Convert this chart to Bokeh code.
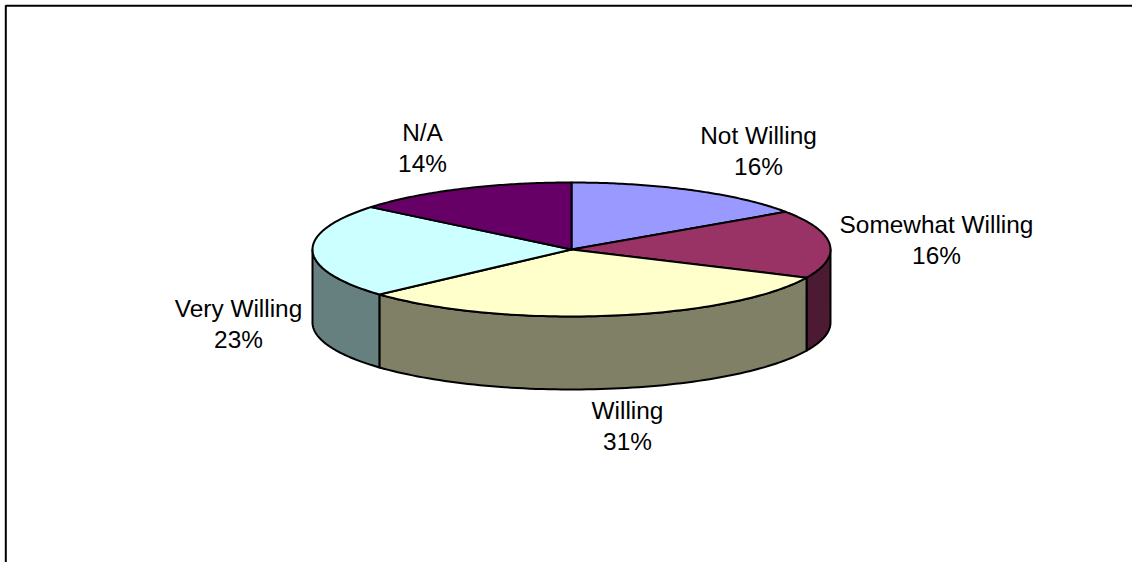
import numpy as np
from bokeh.plotting import figure, ColumnDataSource
from bokeh.models import Range1d, BoxAnnotation
from bokeh.core.properties import value
from bokeh.embed import file_html
from bokeh.resources import INLINE

categories = ["Not Willing", "Somewhat Willing", "Willing", "Very Willing", "N/A"]
shares = [15.5, 16.4, 31.4, 22.6, 14.1]
top_colors = ["#9999FF", "#993366", "#FFFFCC", "#CCFFFF", "#660066"]
side_colors = ["#4D4D80", "#4D1A33", "#808066", "#668080", "#330033"]
label_x = [758, 936, 627, 238, 422]
label_base = [135, 223.5, 409.5, 307.5, 131.5]

CX, CY, RX, RY, DEPTH = 571.0, 249.0, 259.0, 67.0, 73.0
LINE_GAP = 31
W, H = 1132, 562

def px(t):
    return CX + RX * np.sin(t)

def py(t):
    return CY - RY * np.cos(t)

edges = np.concatenate([[0], np.cumsum(shares)]) / np.sum(shares) * 2 * np.pi

top_xs, top_ys, side_xs, side_ys, side_fill = [], [], [], [], []
for i in range(len(shares)):
    a, b = edges[i], edges[i + 1]
    t = np.linspace(a, b, 80)
    top_xs.append(np.concatenate([[CX], px(t)]).tolist())
    top_ys.append(np.concatenate([[CY], py(t)]).tolist())
    lo, hi = max(a, np.pi / 2), min(b, 3 * np.pi / 2)
    if lo < hi:
        s = np.linspace(lo, hi, 80)
        side_xs.append(np.concatenate([px(s), px(s)[::-1]]).tolist())
        side_ys.append(np.concatenate([py(s), (py(s) + DEPTH)[::-1]]).tolist())
        side_fill.append(side_colors[i])

p = figure(width=W, height=H, output_backend="svg", toolbar_location=None,
           x_range=Range1d(0, W), y_range=Range1d(H, 0), min_border=0,
           outline_line_color=None, background_fill_color="white",
           border_fill_color="white", tools="")
p.axis.visible = False
p.grid.visible = False

p.add_layout(BoxAnnotation(left=5.3, top=5.3, right=W + 20, bottom=H + 20,
                           fill_alpha=0, line_color="black", line_alpha=1, line_width=2))

p.patches(side_xs, side_ys, fill_color=side_fill, line_color="black", line_width=2,
          line_join="round")
p.patches(top_xs, top_ys, fill_color=top_colors, line_color="black", line_width=2,
          line_join="round")

pct = [f"{round(v / sum(shares) * 100)}%" for v in shares]
src = ColumnDataSource(dict(
    x=label_x + label_x,
    y=label_base + [b + LINE_GAP for b in label_base],
    t=categories + pct,
))
p.text("x", "y", "t", source=src, text_font=value("Liberation Sans"),
       text_font_size="24.4px", text_color="black", text_align="center",
       text_baseline="alphabetic")

open("out.html", "w").write(file_html(p, INLINE))
